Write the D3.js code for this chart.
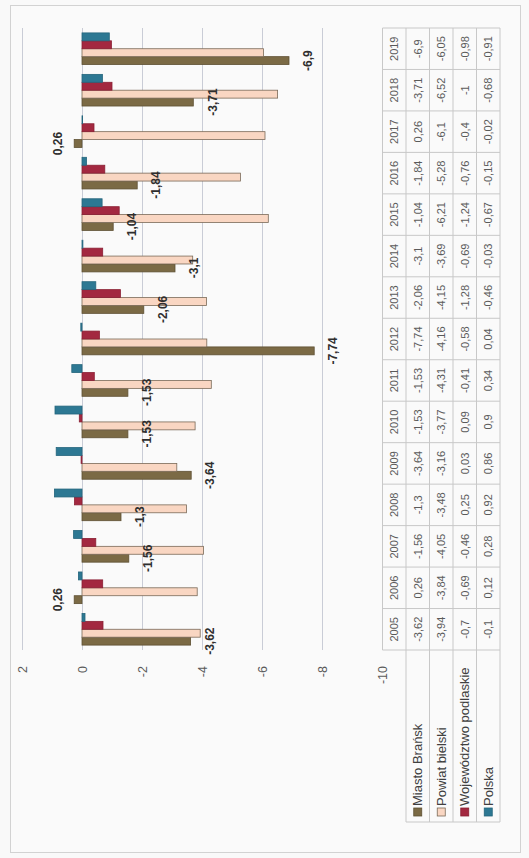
<!DOCTYPE html>
<html><head><meta charset="utf-8">
<script src="https://cdn.jsdelivr.net/npm/d3@7"></script>
<style>
html,body{margin:0;padding:0;background:#f9f9f9;}
svg{display:block;}
text{font-family:"Liberation Sans","DejaVu Sans",sans-serif;}
</style></head>
<body>
<svg id="chart" width="529" height="858"></svg>
<script>
const years = ["2005","2006","2007","2008","2009","2010","2011","2012","2013","2014","2015","2016","2017","2018","2019"];
const seriesNames = ["Miasto Brańsk","Powiat bielski","Województwo podlaskie","Polska"];
const miastoBransk = [-3.62,0.26,-1.56,-1.3,-3.64,-1.53,-1.53,-7.74,-2.06,-3.1,-1.04,-1.84,0.26,-3.71,-6.9];
const powiatBielski = [-3.94,-3.84,-4.05,-3.48,-3.16,-3.77,-4.31,-4.16,-4.15,-3.69,-6.21,-5.28,-6.1,-6.52,-6.05];
const wojPodlaskie = [-0.7,-0.69,-0.46,0.25,0.03,0.09,-0.41,-0.58,-1.28,-0.69,-1.24,-0.76,-0.4,-1,-0.98];
const polska = [-0.1,0.12,0.28,0.92,0.86,0.9,0.34,0.04,-0.46,-0.03,-0.67,-0.15,-0.02,-0.68,-0.91];
const tickValues = [2,0,-2,-4,-6,-8,-10];

const seriesValues = [miastoBransk, powiatBielski, wojPodlaskie, polska];
const fills = ["#7b6a45","#f9d6c2","#a32840","#2d7893"];
const strokes = ["#5e5033","#7a6a58","#8a2034","#24657c"];
const fmt = v => String(v).replace(".", ",");

const svg = d3.select("#chart");
svg.append("rect").attr("x",10.5).attr("y",5.5).attr("width",510).attr("height",847)
  .attr("fill","#fafafa").attr("stroke","#d2d2d2").attr("stroke-width",1);

const g = svg.append("g").attr("transform","translate(0,858) rotate(-90)");

const plotL = 208, plotR = 830;
const x = d3.scaleBand().domain(years).range([plotL, plotR]).paddingInner(0).paddingOuter(0);
const xs = d3.scaleBand().domain(seriesNames).range([0, x.bandwidth()]).paddingInner(0).paddingOuter(0.62);
const y = d3.scaleLinear().domain([2,-10]).range([22,382]);

const yAxis = d3.axisLeft(y).tickValues(tickValues).tickSizeInner(-(plotR-plotL)).tickSizeOuter(0)
  .tickPadding(16).tickFormat(d => String(d));
const ax = g.append("g").attr("transform",`translate(${plotL},0)`).call(yAxis);
ax.select(".domain").remove();
ax.selectAll(".tick line").attr("stroke","#c9ccd6").attr("stroke-width",1);
ax.selectAll(".tick text").attr("fill","#5a5a5a").attr("font-size",12.5).attr("dy","0.35em");

seriesNames.forEach((name, si) => {
  g.append("g").selectAll("rect").data(seriesValues[si]).join("rect")
    .attr("x", (d,i) => x(years[i]) + xs(name))
    .attr("width", xs.bandwidth())
    .attr("y", d => Math.min(y(0), y(d)))
    .attr("height", d => Math.max(0.5, Math.abs(y(d) - y(0))))
    .attr("fill", fills[si])
    .attr("stroke", strokes[si]).attr("stroke-width",0.8);
});

g.append("g").selectAll("text").data(miastoBransk).join("text")
  .attr("x", (d,i) => x(years[i]) + xs(seriesNames[0]) + xs.bandwidth()/2)
  .attr("y", d => d < 0 ? y(d) + 19 : y(d) - 16)
  .attr("dy","0.35em")
  .attr("text-anchor","middle")
  .attr("font-size",12).attr("font-weight","bold").attr("fill","#2e2e2e")
  .text(d => fmt(d));

const tTop = 382.5, hdrH = 23.5, rowH = 23.5;
const legL = 36, tbl = g.append("g");
const lineC = "#c8c8c8";
tbl.append("g").selectAll("text").data(years).join("text")
  .attr("x", d => x(d) + x.bandwidth()/2).attr("y", tTop + hdrH/2).attr("dy","0.35em")
  .attr("text-anchor","middle").attr("font-size",11).attr("fill","#5a5a5a").text(d => d);
seriesNames.forEach((name, si) => {
  const cy = tTop + hdrH + rowH*si + rowH/2;
  tbl.append("g").selectAll("text").data(seriesValues[si]).join("text")
    .attr("x", (d,i) => x(years[i]) + x.bandwidth()/2).attr("y", cy).attr("dy","0.35em")
    .attr("text-anchor","middle").attr("font-size",11).attr("fill","#5a5a5a").text(d => fmt(d));
  tbl.append("rect").attr("x", legL + 6).attr("y", cy - 4).attr("width",8).attr("height",8)
    .attr("fill", fills[si]).attr("stroke", strokes[si]).attr("stroke-width",0.8);
  tbl.append("text").attr("x", legL + 16).attr("y", cy).attr("dy","0.35em")
    .attr("font-size",13).attr("fill","#404040").text(name);
});
const tBot = tTop + hdrH + rowH*4;
const hLines = [[plotL, plotR, tTop]];
for (let r = 0; r <= 4; r++) hLines.push([legL, plotR, tTop + hdrH + rowH*r]);
tbl.append("g").selectAll("line").data(hLines).join("line")
  .attr("x1", d => d[0]).attr("x2", d => d[1]).attr("y1", d => d[2]).attr("y2", d => d[2])
  .attr("stroke", lineC).attr("stroke-width",1);
const bounds = years.map(d => x(d)).concat([plotR]);
tbl.append("g").selectAll("line").data(bounds).join("line")
  .attr("x1", d => d).attr("x2", d => d).attr("y1", tTop).attr("y2", tBot)
  .attr("stroke", lineC).attr("stroke-width",1);
tbl.append("line").attr("x1", legL).attr("x2", legL).attr("y1", tTop + hdrH).attr("y2", tBot)
  .attr("stroke", lineC).attr("stroke-width",1);
</script>
</body></html>
